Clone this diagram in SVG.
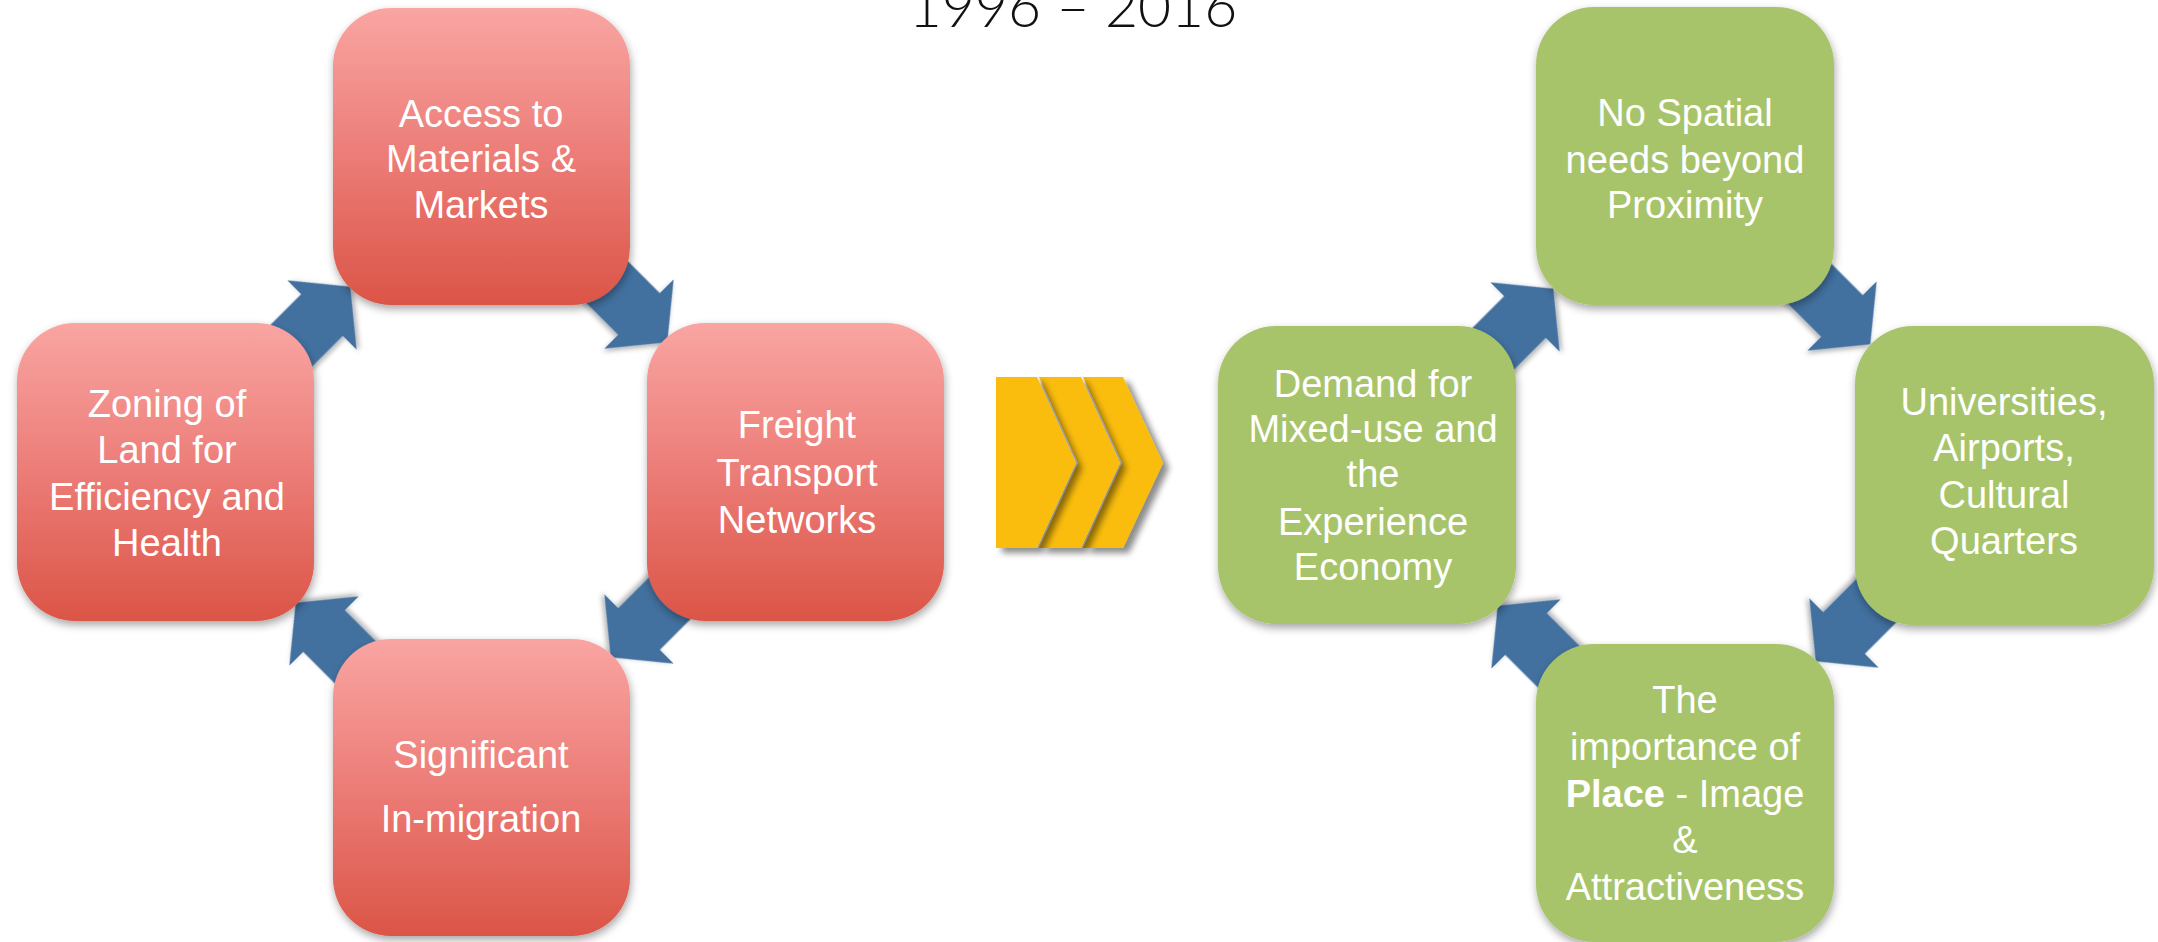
<svg xmlns="http://www.w3.org/2000/svg" width="2158" height="942" viewBox="0 0 2158 942">
<defs>
<linearGradient id="redGrad" x1="0" y1="0" x2="0" y2="1">
<stop offset="0" stop-color="#F9A5A2"/>
<stop offset="0.5" stop-color="#EC7C77"/>
<stop offset="1" stop-color="#DB5547"/>
</linearGradient>
<filter id="boxShadow" x="-10%" y="-10%" width="125%" height="125%">
<feDropShadow dx="1" dy="4" stdDeviation="4" flood-color="#000" flood-opacity="0.35"/>
</filter>
<filter id="arrowShadow" x="-20%" y="-20%" width="150%" height="150%">
<feDropShadow dx="1" dy="3" stdDeviation="2.5" flood-color="#000" flood-opacity="0.3"/>
</filter>
<filter id="chevShadow" x="-20%" y="-20%" width="160%" height="150%">
<feDropShadow dx="6" dy="5" stdDeviation="3" flood-color="#000" flood-opacity="0.45"/>
</filter>
<path id="arrowShape" d="M-62,-29.5 H0 V-49 L40,0 L0,49 V29.5 H-62 Z"/>
</defs>
<style>
.red { fill: url(#redGrad); filter: url(#boxShadow); }
.green { fill: #A8C46B; filter: url(#boxShadow); }
.arrow { fill: #4371A0; filter: url(#arrowShadow); }
.chev { fill: #FABD08; filter: url(#chevShadow); }
.lbl { font-family: "Liberation Sans", Arial, sans-serif; font-size: 38px; fill: #FFFFFF; text-anchor: middle; }
.title { font-family: Lato, "Liberation Sans", sans-serif; font-weight: 300; font-size: 57px; fill: #111111; text-anchor: middle; }
</style>
<rect width="2158" height="942" fill="#FFFFFF"/>

<text class="title" x="1073" y="27">1996 – 2016</text>

<g id="connectors">
<use href="#arrowShape" class="arrow" transform="translate(322,315) rotate(-45)"/>
<use href="#arrowShape" class="arrow" transform="translate(639,314) rotate(45)"/>
<use href="#arrowShape" class="arrow" transform="translate(639,629) rotate(135)"/>
<use href="#arrowShape" class="arrow" transform="translate(324,631) rotate(-135)"/>
<use href="#arrowShape" class="arrow" transform="translate(1525,317) rotate(-45)"/>
<use href="#arrowShape" class="arrow" transform="translate(1842,316) rotate(45)"/>
<use href="#arrowShape" class="arrow" transform="translate(1844,633) rotate(135)"/>
<use href="#arrowShape" class="arrow" transform="translate(1526,634) rotate(-135)"/>
</g>

<g id="transition">
<path class="chev" d="M1083,377 H1123 L1163,463 L1123,548 H1083 L1122,463 Z"/>
<path class="chev" d="M1039,377 H1081 L1120,463 L1081,548 H1039 L1078,463 Z"/>
<path class="chev" d="M996,377 H1037 L1076,463 L1037,548 H996 Z"/>
</g>

<g id="node-access">
<rect class="red" x="333" y="8" width="297" height="297" rx="58" ry="58"/>
<text class="lbl"><tspan x="481" y="127">Access to</tspan><tspan x="481" y="172">Materials &amp;</tspan><tspan x="481" y="218">Markets</tspan></text>
</g>
<g id="node-freight">
<rect class="red" x="647" y="323" width="297" height="298" rx="58" ry="58"/>
<text class="lbl"><tspan x="797" y="438">Freight</tspan><tspan x="797" y="486">Transport</tspan><tspan x="797" y="533">Networks</tspan></text>
</g>
<g id="node-migration">
<rect class="red" x="333" y="639" width="297" height="297" rx="58" ry="58"/>
<text class="lbl"><tspan x="481" y="768">Significant</tspan><tspan x="481" y="832">In-migration</tspan></text>
</g>
<g id="node-zoning">
<rect class="red" x="17" y="323" width="297" height="298" rx="58" ry="58"/>
<text class="lbl"><tspan x="167" y="417">Zoning of</tspan><tspan x="167" y="463">Land for</tspan><tspan x="167" y="510">Efficiency and</tspan><tspan x="167" y="556">Health</tspan></text>
</g>

<g id="node-spatial">
<rect class="green" x="1536" y="7" width="298" height="298" rx="58" ry="58"/>
<text class="lbl"><tspan x="1685" y="126">No Spatial</tspan><tspan x="1685" y="173">needs beyond</tspan><tspan x="1685" y="218">Proximity</tspan></text>
</g>
<g id="node-universities">
<rect class="green" x="1855" y="326" width="299" height="299" rx="58" ry="58"/>
<text class="lbl"><tspan x="2004" y="415">Universities,</tspan><tspan x="2004" y="461">Airports,</tspan><tspan x="2004" y="508">Cultural</tspan><tspan x="2004" y="554">Quarters</tspan></text>
</g>
<g id="node-place">
<rect class="green" x="1536" y="644" width="298" height="298" rx="58" ry="58"/>
<text class="lbl"><tspan x="1685" y="713">The</tspan><tspan x="1685" y="760">importance of</tspan><tspan x="1685" y="807"><tspan font-weight="bold">Place</tspan> - Image</tspan><tspan x="1685" y="853">&amp;</tspan><tspan x="1685" y="900">Attractiveness</tspan></text>
</g>
<g id="node-demand">
<rect class="green" x="1218" y="326" width="298" height="298" rx="58" ry="58"/>
<text class="lbl"><tspan x="1373" y="397">Demand for</tspan><tspan x="1373" y="442">Mixed-use and</tspan><tspan x="1373" y="487">the</tspan><tspan x="1373" y="535">Experience</tspan><tspan x="1373" y="580">Economy</tspan></text>
</g>
</svg>
